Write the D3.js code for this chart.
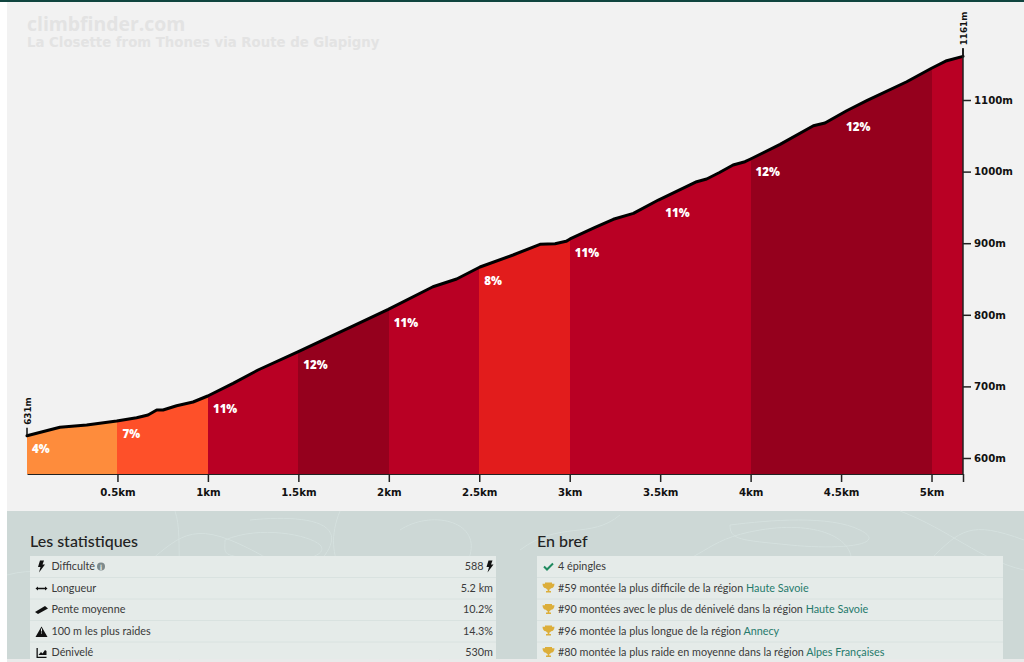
<!DOCTYPE html>
<html><head><meta charset="utf-8">
<style>html,body{margin:0;padding:0;background:#fff;overflow:hidden}svg{display:block}</style>
<script src="https://cdn.jsdelivr.net/npm/d3@7"></script></head><body>
<script>
const distanceKm=[0,.182,.33,.496,.606,.669,.717,.752,.827,.918,.999,1.139,1.277,1.5,1.786,1.997,2.244,2.375,2.504,2.687,2.836,2.919,2.98,3.002,3.14,3.241,3.352,3.49,3.702,3.757,3.828,3.903,3.969,4.0,4.163,4.347,4.411,4.531,4.642,4.863,5.0,5.084,5.174];
const elevationM=[631,642.9,646.1,651.7,656.3,660,667,667,673,678.2,686.6,704.3,722.9,748.5,782.5,807.7,839.2,850,866.8,883.5,898.5,899.3,902.6,905.9,922.2,933.4,941.7,960.3,985.9,989.7,998.7,1009.2,1013.8,1017.6,1038.1,1064.1,1067.9,1085,1099,1125.5,1144.3,1154.9,1161];
const segmentStarts=[0,.5,1,1.5,2,2.5,3,3.5,4,4.5,5];
const segmentGrades=[4,7,11,12,11,8,11,11,12,12,11];
const segmentLabels=["4%","7%","11%","12%","11%","8%","11%","11%","12%","12%",""];
const xTicks=[.5,1,1.5,2,2.5,3,3.5,4,4.5,5];
const xTickLabels=["0.5km","1km","1.5km","2km","2.5km","3km","3.5km","4km","4.5km","5km"];
const yTicks=[600,700,800,900,1000,1100];
const titleLines=["climbfinder.com","La Closette from Thones via Route de Glapigny"];
const statLabels=["Difficulté","Longueur","Pente moyenne","100 m les plus raides","Dénivelé"];
const statValues=["588","5.2 km","10.2%","14.3%","530m"];
const briefTexts=["4 épingles","#59 montée la plus difficile de la région ","#90 montées avec le plus de dénivelé dans la région ","#96 montée la plus longue de la région ","#80 montée la plus raide en moyenne dans la région "];
const briefLinks=["","Haute Savoie","Haute Savoie","Annecy","Alpes Françaises"];

const gradeColor=g=>({4:"#fe8c3c",7:"#fe5029",8:"#e21c1c",11:"#b90024",12:"#95001d"})[g];
const W=1024,H=662,baseY=474,endKm=distanceKm[distanceKm.length-1];
const x=d3.scaleLinear().domain([0,endKm]).range([27,963]);
const y=d3.scaleLinear().domain([600,1100]).range([458,100]);
const elevAt=d3.scaleLinear().domain(distanceKm).range(elevationM);
const profile=distanceKm.map((d,i)=>[d,elevationM[i]]);
const svg=d3.select("body").append("svg").attr("width",W).attr("height",H);

svg.append("rect").attr("x",7).attr("y",0).attr("width",W-7).attr("height",511).attr("fill","#f2f2f2");
svg.append("rect").attr("width",W).attr("height",2).attr("fill","#10453f");

const AX="DejaVu Sans",UI="Lato";
svg.append("text").text(titleLines[0]).attr("x",27).attr("y",31).attr("font-family","'Open Sans'").attr("font-weight",700).attr("font-size",19.4).attr("fill","#e3e3e3");
svg.append("text").text(titleLines[1]).attr("x",27).attr("y",47).attr("font-family","'DejaVu Sans'").attr("font-weight",700).attr("font-size",13.3).attr("fill","#e3e3e3");

const defs=svg.append("defs");
const segs=segmentStarts.map((s,i)=>({s,e:i<segmentStarts.length-1?segmentStarts[i+1]:endKm,g:segmentGrades[i],l:segmentLabels[i],i}));
segs.forEach(d=>{const a=Math.round(x(d.s)),b=Math.round(x(d.e));
 defs.append("clipPath").attr("id","c"+d.i).append("rect").attr("x",a).attr("y",0).attr("width",b-a).attr("height",H);});
const area=d3.area().x(d=>x(d[0])).y0(baseY).y1(d=>y(d[1]));
svg.append("g").selectAll("path").data(segs).join("path").attr("d",area(profile)).attr("clip-path",d=>`url(#c${d.i})`).attr("fill",d=>gradeColor(d.g));
svg.append("path").attr("d",d3.line().x(d=>x(d[0])).y(d=>y(d[1]))(profile)).attr("fill","none").attr("stroke","#000").attr("stroke-width",3).attr("stroke-linejoin","round").attr("stroke-linecap","round");
svg.append("g").selectAll("text").data(segs.filter(d=>d.l)).join("text").text(d=>d.l).attr("x",d=>x(d.s)+5).attr("y",d=>y(elevAt(d.s))+17.5).attr("fill","#fff").attr("font-family","'Open Sans'").attr("font-weight",800).attr("font-size",11.5);

const xa=svg.append("g").attr("transform",`translate(0,${baseY})`).call(d3.axisBottom(x).tickValues([...xTicks,endKm]).tickSize(8).tickSizeOuter(0).tickFormat((d,i)=>xTickLabels[i]||""));
const ya=svg.append("g").attr("transform","translate(963,0)").call(d3.axisRight(y).tickValues(yTicks).tickSize(8).tickSizeOuter(0).tickFormat(d=>d+"m"));
ya.select(".domain").remove();
svg.append("line").attr("x1",963).attr("x2",963).attr("y1",y(1161)-8).attr("y2",baseY).attr("stroke","#222").attr("stroke-width",1.5);
xa.select(".domain").attr("stroke","#222").attr("stroke-width",1.2);
[xa,ya].forEach(a=>{a.selectAll("line").attr("stroke","#222").attr("stroke-width",1.5);
 a.selectAll("text").attr("font-family",AX).attr("font-weight",700).attr("font-size",10.2).attr("fill","#111");});
xa.selectAll("text").attr("y",14.5);
ya.selectAll("text").attr("x",11);
[[0,631],[endKm,1161]].forEach(([k,e])=>{
 svg.append("line").attr("x1",x(k)).attr("x2",x(k)).attr("y1",y(e)).attr("y2",y(e)-8).attr("stroke","#111").attr("stroke-width",1.5);
 svg.append("text").text(e+"m").attr("transform",`translate(${x(k)+4},${y(e)-11}) rotate(-90)`).attr("font-family",AX).attr("font-weight",700).attr("font-size",8.8).attr("fill","#111");
});

// lower panel
svg.append("rect").attr("x",7).attr("y",511).attr("width",W-7).attr("height",148).attr("fill","#cdd8d6");
svg.append("rect").attr("x",7).attr("y",659).attr("width",W-7).attr("height",3).attr("fill","#e9eaea");
const contours=svg.append("g").attr("fill","none").attr("stroke","#d9e5e3").attr("stroke-width",1).attr("opacity",.7);
["M7 575C60 560 90 600 130 575S180 520 230 540 300 590 325 555 300 515 250 520",
 "M175 511C185 540 170 590 195 630S220 650 215 659",
 "M225 540C260 525 310 535 320 545S300 565 260 560 225 555 225 540",
 "M340 511C320 560 350 590 380 610S420 650 440 659",
 "M400 530C430 510 480 520 470 555S420 600 450 630",
 "M560 659C600 620 570 590 640 575S700 540 760 530 860 540 850 570 780 590 760 620 790 650 800 659",
 "M730 525C770 520 830 515 860 530S840 550 790 545 730 540 730 525",
 "M880 659C860 620 900 590 930 560S970 520 1024 540",
 "M900 511C950 530 980 560 1024 570",
 "M520 550C560 520 590 540 620 515",
 "M60 659C90 630 130 620 150 640S170 655 180 659"].forEach(d=>contours.append("path").attr("d",d));

const rowY=[556,577.5,599,620.5,642],rowH=21.5;
const panels=[{x:30,w:466,title:"Les statistiques",tx:30},{x:537,w:466,title:"En bref",tx:537}];
panels.forEach(p=>{
 svg.append("rect").attr("x",p.x).attr("y",556).attr("width",p.w).attr("height",103).attr("fill","#e5ebe9");
 rowY.slice(1).forEach(r=>svg.append("line").attr("x1",p.x).attr("x2",p.x+p.w).attr("y1",r).attr("y2",r).attr("stroke","#d9e2e0"));
 svg.append("text").text(p.title).attr("x",p.tx).attr("y",546.5).attr("font-family",UI).attr("font-size",16).attr("font-weight",500).attr("fill","#222");
});
const rowText=(sel)=>sel.attr("font-family",UI).attr("font-size",10.8).attr("fill","#3a3a3a");
statLabels.forEach((t,i)=>{
 rowText(svg.append("text")).text(t).attr("x",51.5).attr("y",rowY[i]+14);
 rowText(svg.append("text")).text(statValues[i]).attr("x",i==0?483.5:493).attr("text-anchor","end").attr("y",rowY[i]+14);
});
const icon=(d,tx,ty,fill)=>svg.append("path").attr("d",d).attr("transform",`translate(${tx},${ty})`).attr("fill",fill||"#111");
const bolt="M-1 -6L3 -6L1.5 -2L4 -2L-2 6L-.5 0.5L-3 0.5Z";
icon(bolt,41,566.5);icon(bolt,489.5,566.5);
icon("M-6 0L-3.5 -2V-.7H3.5V-2L6 0L3.5 2V.7H-3.5V2Z",41.5,588.5);
icon("M-6 2L4 -4L7 -1.5L-3 4Z",41,610);
icon("M0 -5.5L6 5H-6Z",41.5,632);
svg.append("rect").attr("x",41).attr("y",628.5).attr("width",1).attr("height",3).attr("fill","#e5ebe9");
svg.append("rect").attr("x",41).attr("y",632.5).attr("width",1).attr("height",1).attr("fill","#e5ebe9");
icon("M-5 -5H-3.7V3.7H5V5H-5ZM-3 2L-.5 -1L1 .5L3.5 -3L5 -2V2Z",41.5,653);
svg.append("circle").attr("cx",101).attr("cy",566.5).attr("r",4).attr("fill","#7d8a8c");
svg.append("text").text("i").attr("x",101).attr("y",569.5).attr("text-anchor","middle").attr("font-family",AX).attr("font-weight",700).attr("font-size",7).attr("fill","#e5ebe9");
const trophy="M-3.5 -5H3.5V-3.8H6C6 -1 4.5 .5 2.6 .8C2 1.7 1.2 2 .8 2.2V3.5H2.5V5H-2.5V3.5H-.8V2.2C-1.2 2 -2 1.7 -2.6 .8C-4.5 .5 -6 -1 -6 -3.8H-3.5Z";
briefTexts.forEach((t,i)=>{
 const tEl=rowText(svg.append("text")).attr("x",558).attr("y",rowY[i]+14);
 tEl.append("tspan").text(t);
 if(briefLinks[i])tEl.append("tspan").text(briefLinks[i]).attr("fill","#257a6c");
 if(i==0)svg.append("path").attr("d","M-4.5 0L-1.5 3L4.5 -3").attr("transform",`translate(548.5,${rowY[i]+10.5})`).attr("fill","none").attr("stroke","#1f8a5f").attr("stroke-width",2);
 else icon(trophy,548.5,rowY[i]+10,"#dcae3a");
});
</script></body></html>
